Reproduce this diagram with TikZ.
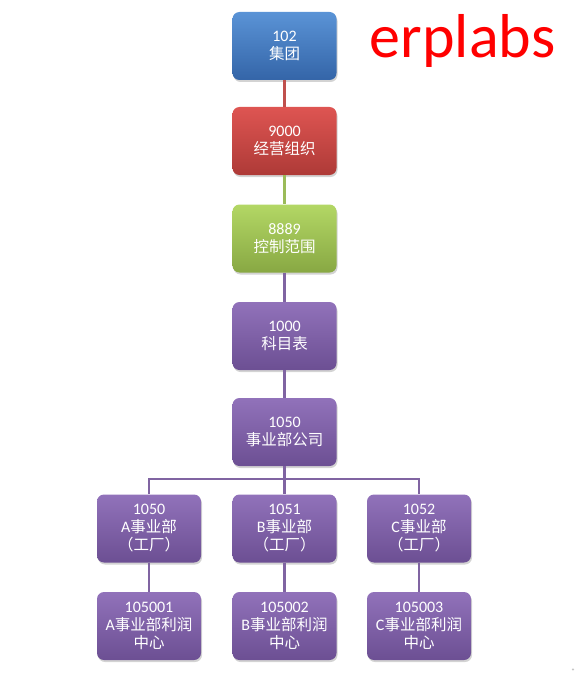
\documentclass[tikz,border=0pt]{standalone}
\usepackage{fontspec}
\setmainfont{Carlito}
\newfontfamily\cjk{Noto Sans CJK SC}
\usetikzlibrary{shadows}

\definecolor{bluetop}{HTML}{5A93D6}
\definecolor{bluebot}{HTML}{3465A8}
\definecolor{redtop}{HTML}{DE5552}
\definecolor{redbot}{HTML}{AE3A37}
\definecolor{greentop}{HTML}{B3D765}
\definecolor{greenbot}{HTML}{88A843}
\definecolor{purptop}{HTML}{9172BA}
\definecolor{purpbot}{HTML}{6C4F93}
\definecolor{redline}{HTML}{C0504D}
\definecolor{greenline}{HTML}{9BBB59}
\definecolor{purpline}{HTML}{8064A2}

% Chinese text inside a box
\newcommand\zh[1]{{\cjk\fontsize{15.5}{18}\selectfont #1}}

\begin{document}
\begin{tikzpicture}[x=1pt, y=-1pt,
    unit/.style={rounded corners=7pt, minimum width=104pt, minimum height=68pt,
        inner sep=0pt, align=center, text=white,
        font=\fontsize{16}{18}\selectfont,
        drop shadow={shadow xshift=1pt, shadow yshift=-2pt, opacity=0.35}},
    blueunit/.style={unit, top color=bluetop, bottom color=bluebot},
    redunit/.style={unit, top color=redtop, bottom color=redbot},
    greenunit/.style={unit, top color=greentop, bottom color=greenbot},
    purpunit/.style={unit, top color=purptop, bottom color=purpbot},
    link/.style={line width=2.5pt}]

% Page
\useasboundingbox (0,0) rectangle (577,687);

% Title
\node[text=red, anchor=base, inner sep=0pt, font=\fontsize{62}{62}\selectfont] (brand) at (462.5,58) {erplabs};

% Main chain
\node[blueunit] (grp) at (284.5,46) {102\\\zh{集团}};
\node[redunit] (opo) at (284.5,141) {9000\\\zh{经营组织}};
\node[greenunit] (car) at (284.5,238.5) {8889\\\zh{控制范围}};
\node[purpunit] (coa) at (284.5,336) {1000\\\zh{科目表}};
\node[purpunit] (comp) at (284.5,432) {1050\\\zh{事业部公司}};

% Divisions
\node[purpunit] (diva) at (149,528.5) {1050\\A\zh{事业部}\\\zh{（工厂）}};
\node[purpunit] (divb) at (284.5,528.5) {1051\\B\zh{事业部}\\\zh{（工厂）}};
\node[purpunit] (divc) at (419,528.5) {1052\\C\zh{事业部}\\\zh{（工厂）}};

% Profit centers
\node[purpunit] (pca) at (149,626) {105001\\A\zh{事业部利润}\\\zh{中心}};
\node[purpunit] (pcb) at (284.5,626) {105002\\B\zh{事业部利润}\\\zh{中心}};
\node[purpunit] (pcc) at (419,626) {105003\\C\zh{事业部利润}\\\zh{中心}};

% Connectors
\draw[link, redline] (grp) -- (opo);
\draw[link, greenline] (opo) -- (car);
\draw[link, purpline] (car) -- (coa);
\draw[link, purpline] (coa) -- (comp);
\coordinate (bus) at (284.5,479);
\draw[link, purpline] (comp) -- (bus);
\draw[link, purpline] (bus) -| (diva.north);
\draw[link, purpline] (bus) -- (divb.north);
\draw[link, purpline] (bus) -| (divc.north);
\draw[link, purpline] (diva) -- (pca);
\draw[link, purpline] (divb) -- (pcb);
\draw[link, purpline] (divc) -- (pcc);

% Corner mark
\node[gray, font=\tiny] (mark) at (573,670) {+};

\end{tikzpicture}
\end{document}
